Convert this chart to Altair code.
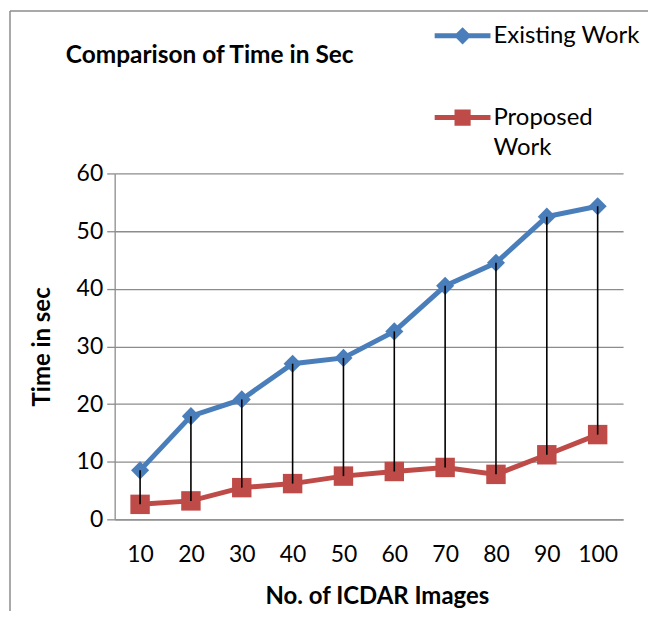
import altair as alt
import pandas as pd

images = [10, 20, 30, 40, 50, 60, 70, 80, 90, 100]
existing = [8.5, 17.9, 20.8, 27.0, 28.0, 32.6, 40.5, 44.5, 52.5, 54.3]
proposed = [2.6, 3.2, 5.5, 6.2, 7.5, 8.3, 9.0, 7.8, 11.2, 14.7]
series_names = ["Existing Work", "Proposed Work"]
legend_lines = ["Existing Work", "Proposed", "Work"]
colors = ["#4A7EBB", "#BE4B48"]
y_ticks = [0, 10, 20, 30, 40, 50, 60]
chart_title = "Comparison of Time in Sec"

long_df = pd.DataFrame({
    "images": images * 2,
    "time": existing + proposed,
    "series": [series_names[0]] * len(images) + [series_names[1]] * len(images),
})
wide_df = pd.DataFrame({"images": images, "existing": existing, "proposed": proposed})

FONT = "Lato"
GRID = "#8C8C8C"

x_axis = alt.Axis(title="No. of ICDAR Images", labelAngle=0, ticks=False, tickSize=0,
                  labelPadding=24, titlePadding=18, titleX=263, domainColor=GRID, domainWidth=1.3,
                  labelFont=FONT, labelFontSize=23, labelColor="black",
                  titleFont=FONT, titleFontSize=24, titleFontWeight="bold", titleColor="black",
                  grid=False)
y_axis = alt.Axis(title="Time in sec", values=y_ticks, tickSize=8, tickColor=GRID, tickWidth=1.3,
                  labelPadding=4, titlePadding=22, domainColor=GRID, domainWidth=1.3,
                  gridColor=GRID, gridWidth=1.3,
                  labelFont=FONT, labelFontSize=23, labelColor="black",
                  titleFont=FONT, titleFontSize=24, titleFontWeight="bold", titleColor="black")

x_enc = alt.X("images:O", scale=alt.Scale(type="point", padding=0.5), axis=x_axis)
y_scale = alt.Scale(domain=[0, 60], nice=False)
color_scale = alt.Scale(domain=series_names, range=colors)

base = alt.Chart(long_df)

lines = base.mark_line(strokeWidth=5).encode(
    x=x_enc,
    y=alt.Y("time:Q", scale=y_scale, axis=y_axis),
    color=alt.Color("series:N", scale=color_scale, legend=None),
)

points = base.mark_point(filled=True, opacity=1).encode(
    x=x_enc,
    y=alt.Y("time:Q", scale=y_scale, axis=y_axis),
    color=alt.Color("series:N", scale=color_scale, legend=None),
    shape=alt.Shape("series:N", scale=alt.Scale(domain=series_names, range=["diamond", "square"]), legend=None),
    size=alt.Size("series:N", scale=alt.Scale(domain=series_names, range=[330, 380]), legend=None),
)

hilo = alt.Chart(wide_df).mark_rule(color="black", strokeWidth=1.6).encode(
    x=x_enc,
    y=alt.Y("existing:Q", scale=y_scale, axis=y_axis),
    y2="proposed:Q",
)

# legend symbols: line segment + marker (unit-square custom paths)
P_DIAMOND = "M-3.5,0H3.5M0,-0.65L0.65,0L0,0.65L-0.65,0Z"
P_SQUARE = "M-3.5,0H3.5M-0.7,-0.7H0.7V0.7H-0.7Z"
legend_paths = [P_DIAMOND, P_SQUARE, P_SQUARE]
legend_colors = [colors[0], colors[1], colors[1]]
legend_opacity = [1, 1, 0]
legend_y = [-150, -68, -37]

legend_layers = []
for i, label in enumerate(legend_lines):
    fld = "leg%d" % i
    lg = alt.Chart(long_df).transform_filter("false").transform_calculate(
        **{fld: "'" + label + "'"}
    ).mark_point(filled=True, opacity=1, color=legend_colors[i], stroke=legend_colors[i],
                 strokeWidth=5).encode(
        shape=alt.Shape(fld + ":N", scale=alt.Scale(domain=[label], range=[legend_paths[i]]),
                        legend=alt.Legend(
                            title=None, orient="none", legendX=337, legendY=legend_y[i], padding=0,
                            labelFont=FONT, labelFontSize=24, labelColor="black", labelLimit=300,
                            symbolSize=256, symbolStrokeWidth=5, symbolOpacity=legend_opacity[i],
                            labelOffset=19)),
    )
    legend_layers.append(lg)

title_layer = alt.Chart(alt.Data(values=[{"t": chart_title}])).mark_text(
    align="left", baseline="middle", font=FONT, fontSize=24.5, fontWeight="bold", color="black"
).encode(text="t:N", x=alt.value(-49), y=alt.value(-118))

border_data = alt.Data(values=[{"k": 1}])
border_top = alt.Chart(border_data).mark_rule(color=GRID, strokeWidth=1.5).encode(
    x=alt.value(-105), x2=alt.value(800), y=alt.value(-163))
border_left = alt.Chart(border_data).mark_rule(color=GRID, strokeWidth=1.5).encode(
    x=alt.value(-105), y=alt.value(-163), y2=alt.value(800))

chart = alt.layer(lines, points, hilo, *legend_layers, title_layer, border_top, border_left).resolve_scale(
    shape="independent", size="independent"
).properties(
    width=510, height=347,
    autosize=alt.AutoSizeParams(type="none"),
    padding={"left": 107, "top": 165, "right": 25, "bottom": 91},
    background="white",
).configure_view(stroke=None)

chart.save("out.html", embed_options={"renderer": "svg", "actions": False})
